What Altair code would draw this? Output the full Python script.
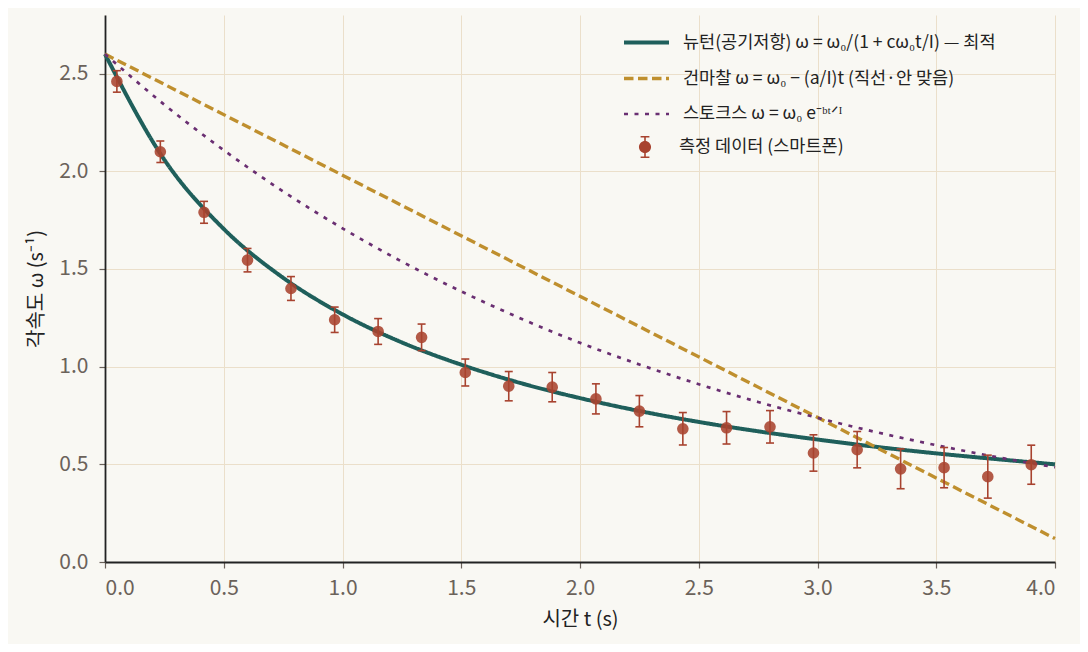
import altair as alt
import pandas as pd

# ---------------- data ----------------
line_names = [
    "뉴턴(공기저항)  ω = ω₀/(1 + cω₀t/I) — 최적",
    "건마찰  ω = ω₀ − (a/I)t  (직선·안 맞음)",
    "스토크스  ω = ω₀ e⁻ᵇᵗᐟᴵ",
]
line_colors = ["#1f5f5b", "#bf8f2e", "#6a2f72"]
line_dashes = [[1, 0], [9.5, 4.5], [4, 6.5]]
line_widths = [4.0, 2.7, 4.0]
data_name = "측정 데이터 (스마트폰)"
data_color = "#a8432f"

# measured data
t_meas = [0.05, 0.233, 0.417, 0.60, 0.783, 0.967, 1.15, 1.333, 1.517, 1.70, 1.883,
          2.067, 2.25, 2.433, 2.617, 2.80, 2.983, 3.167, 3.35, 3.533, 3.717, 3.90]
w_meas = [2.46, 2.10, 1.79, 1.545, 1.40, 1.24, 1.18, 1.15, 0.97, 0.90, 0.895,
          0.835, 0.772, 0.682, 0.687, 0.692, 0.558, 0.575, 0.477, 0.483, 0.437, 0.498]
w_err = [0.055, 0.055, 0.056, 0.060, 0.061, 0.065, 0.066, 0.068, 0.069, 0.075, 0.075,
         0.077, 0.080, 0.083, 0.083, 0.083, 0.093, 0.093, 0.102, 0.103, 0.110, 0.100]

# model curves
t_curve = [0.0, 0.25, 0.5, 0.75, 1.0, 1.25, 1.5, 1.75, 2.0, 2.25, 2.5, 2.75,
           3.0, 3.25, 3.5, 3.75, 4.0]
w_newton = [2.600, 2.059, 1.705, 1.455, 1.268, 1.124, 1.010, 0.916, 0.839, 0.773,
            0.717, 0.669, 0.627, 0.589, 0.556, 0.527, 0.500]
w_stokes = [2.600, 2.341, 2.108, 1.897, 1.708, 1.538, 1.385, 1.247, 1.122, 1.011,
            0.910, 0.819, 0.738, 0.664, 0.598, 0.538, 0.485]
t_dry = [0.0, 4.0]
w_dry = [2.60, 0.12]

x_ticks = [0.0, 0.5, 1.0, 1.5, 2.0, 2.5, 3.0, 3.5, 4.0]
y_ticks = [0.0, 0.5, 1.0, 1.5, 2.0, 2.5]

# ---------------- tables ----------------
df_lines = pd.concat([
    pd.DataFrame({"t": t_curve, "w": w_newton, "series": line_names[0]}),
    pd.DataFrame({"t": t_dry, "w": w_dry, "series": line_names[1]}),
    pd.DataFrame({"t": t_curve, "w": w_stokes, "series": line_names[2]}),
])
df_meas = pd.DataFrame({"t": t_meas, "w": w_meas, "err": w_err, "kind": data_name})
df_meas["lo"] = df_meas["w"] - df_meas["err"]
df_meas["hi"] = df_meas["w"] + df_meas["err"]
df_caps = pd.concat([
    pd.DataFrame({"t": df_meas["t"], "w": df_meas["lo"], "kind": data_name}),
    pd.DataFrame({"t": df_meas["t"], "w": df_meas["hi"], "kind": data_name}),
])

X_TITLE = "시간  t  (s)"
Y_TITLE = "각속도  ω  (s⁻¹)"

x_enc = alt.X("t:Q", scale=alt.Scale(domain=[0, 4], nice=False, zero=False),
              axis=alt.Axis(values=x_ticks, format=".1f", title=X_TITLE,
                            labelPadding=9, titlePadding=11))


def y_enc(field):
    return alt.Y(field, type="quantitative",
                 scale=alt.Scale(domain=[0, 2.8], nice=False),
                 axis=alt.Axis(values=y_ticks, format=".1f", title=Y_TITLE,
                               labelPadding=11, titlePadding=12))


line_legend = alt.Legend(
    title=None, orient="none", legendX=517, legendY=3, padding=0,
    labelFontSize=17.5, labelColor="#222222", labelLimit=700, labelOffset=12,
    rowPadding=3, symbolSize=2025, symbolType="stroke", symbolStrokeWidth=3,
)
# circle with an error bar, drawn as filled pieces
data_symbol = ("M-0.55,0A0.55,0.55,0,1,1,0.55,0A0.55,0.55,0,1,1,-0.55,0Z "
               "M-0.073,-1H0.073V1H-0.073Z "
               "M-0.4,-1H0.4V-0.86H-0.4Z "
               "M-0.4,0.86H0.4V1H-0.4Z")
data_legend = alt.Legend(
    title=None, orient="none", legendX=529, legendY=121, padding=0,
    labelFontSize=17.5, labelColor="#222222", labelLimit=700, labelOffset=23,
    symbolType=data_symbol, symbolSize=484,
    symbolFillColor=data_color, symbolStrokeWidth=0,
)

lines = alt.Chart(df_lines).mark_line(interpolate="monotone").encode(
    x=x_enc, y=y_enc("w"),
    color=alt.Color("series:N", scale=alt.Scale(domain=line_names, range=line_colors),
                    legend=line_legend),
    strokeDash=alt.StrokeDash("series:N",
                              scale=alt.Scale(domain=line_names, range=line_dashes),
                              legend=line_legend),
    strokeWidth=alt.StrokeWidth("series:N",
                                scale=alt.Scale(domain=line_names, range=line_widths),
                                legend=line_legend),
)

err_rules = alt.Chart(df_meas).mark_rule(strokeWidth=1.6, color=data_color).encode(
    x=x_enc, y=y_enc("lo"), y2="hi")
err_caps = alt.Chart(df_caps).mark_tick(orient="horizontal", size=8, thickness=1.6,
                                        color=data_color).encode(
    x=x_enc, y=y_enc("w"),
    opacity=alt.Opacity("kind:O", scale=alt.Scale(domain=[data_name], range=[0.95]),
                        legend=data_legend),
)
points = alt.Chart(df_meas).mark_point(filled=True, size=135, color=data_color,
                                       opacity=0.88).encode(
    x=x_enc, y=y_enc("w"))

chart = alt.layer(lines, err_rules, err_caps, points).properties(
    width=950,
    height=547,
    autosize=alt.AutoSizeParams(type="none"),
    padding={"left": 97, "top": 7, "right": 25, "bottom": 82},
).configure(
    background="#f9f8f3",
    font="Noto Sans CJK KR",
).configure_view(
    strokeWidth=0,
).configure_axis(
    grid=True,
    gridColor="#ebdfca",
    gridWidth=1,
    domainColor="#222222",
    domainWidth=1.8,
    tickColor="#6b625a",
    tickSize=6,
    tickWidth=1.2,
    labelColor="#6b625a",
    labelFontSize=21,
    labelFont="Noto Sans CJK KR",
    titleFont="Noto Sans CJK KR",
    titleFontSize=20,
    titleFontWeight="normal",
    titleColor="#222222",
)

chart.save("out.html", embed_options={"renderer": "svg", "actions": False})
